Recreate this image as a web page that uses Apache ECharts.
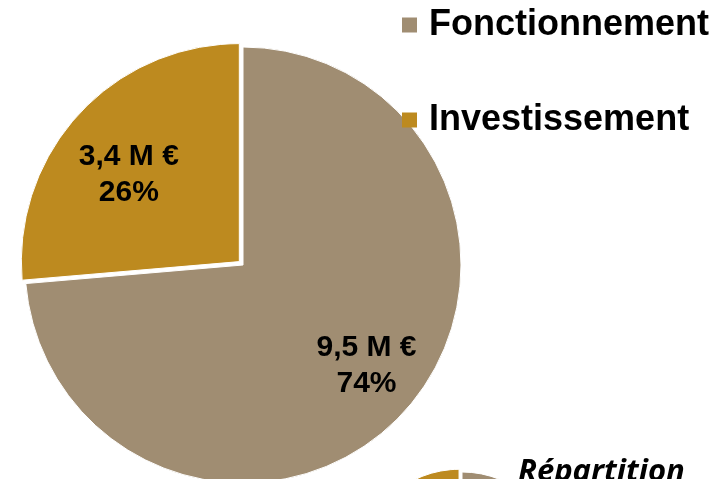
<!DOCTYPE html>
<html>
<head>
<meta charset="utf-8">
<script src="https://cdn.jsdelivr.net/npm/echarts@6/dist/echarts.min.js"></script>
<style>
  html, body { margin: 0; padding: 0; background: #fff; }
  #chart { width: 726px; height: 479px; }
</style>
</head>
<body>
<div id="chart"></div>
<script>
// données
var categories = ['Fonctionnement', 'Investissement'];
var montants = [9.5, 3.4];          // M €
var pourcentages = [74, 26];
var couleurs = ['#A08D72', '#BD8A1F'];

// décalage des étiquettes par rapport à la position "inside"
var decalages = [[41, 25], [-28, -11]];

var myChart = echarts.init(document.getElementById('chart'));

var donnees = categories.map(function (nom, i) {
    return {
        name: nom,
        value: montants[i],
        selected: i === 1,
        itemStyle: { color: couleurs[i] }
    };
});

var option = {
    animation: false,
    title: {
        text: 'Répartition',
        left: 518,
        top: 457,
        padding: 0,
        textStyle: {
            fontFamily: 'Open Sans',
            fontStyle: 'italic',
            fontWeight: 'bold',
            fontSize: 31,
            color: '#000'
        }
    },
    legend: {
        orient: 'vertical',
        left: 402,
        top: 5,
        padding: 0,
        icon: 'rect',
        itemWidth: 15,
        itemHeight: 15,
        itemGap: 55,
        selectedMode: false,
        itemStyle: { borderWidth: 0 },
        textStyle: {
            fontFamily: 'Liberation Sans, Arial',
            fontWeight: 'bold',
            fontSize: 36,
            lineHeight: 40,
            color: '#000',
            padding: [0, 0, 0, 7]
        },
        data: categories
    },
    series: [
        {
            type: 'pie',
            center: [243, 265],
            radius: 218,
            startAngle: 90,
            clockwise: true,
            selectedMode: 'single',
            selectedOffset: 5,
            itemStyle: { borderColor: '#fff', borderWidth: 1 },
            emphasis: { disabled: true },
            label: {
                show: true,
                position: 'inside',
                fontFamily: 'Liberation Sans, Arial',
                fontWeight: 'bold',
                fontSize: 30,
                lineHeight: 36,
                color: '#000',
                formatter: function (p) {
                    return String(montants[p.dataIndex]).replace('.', ',') + ' M €\n' +
                        pourcentages[p.dataIndex] + '%';
                }
            },
            labelLine: { show: false },
            labelLayout: function (params) {
                var d = decalages[params.dataIndex];
                return { dx: d[0], dy: d[1] };
            },
            data: donnees
        },
        {
            type: 'pie',
            center: [462, 572],
            radius: 100,
            startAngle: 90,
            clockwise: true,
            selectedMode: 'single',
            selectedOffset: 4,
            silent: true,
            itemStyle: { borderColor: '#fff', borderWidth: 1 },
            label: { show: false },
            labelLine: { show: false },
            data: donnees
        }
    ]
};

myChart.setOption(option);
</script>
</body>
</html>
